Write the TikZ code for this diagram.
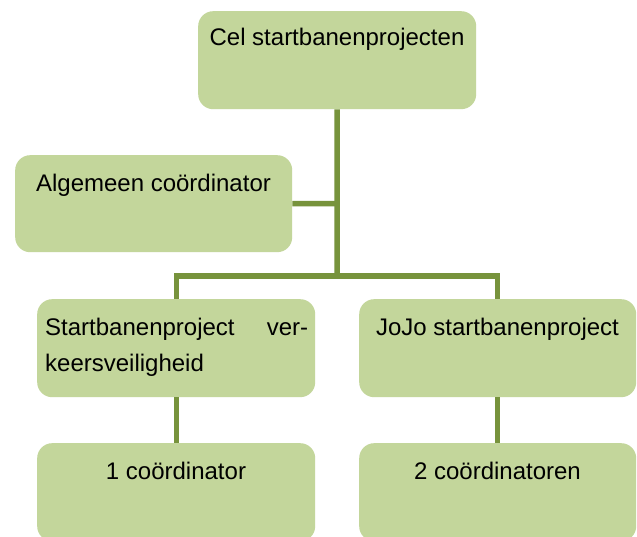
\documentclass[tikz,border=0pt]{standalone}
\usepackage{fontspec}
\setmainfont{Liberation Sans}
\definecolor{boxfill}{HTML}{C3D69B}
\definecolor{linkcol}{HTML}{77933C}
\begin{document}
\begin{tikzpicture}[x=1pt,y=-1pt,
  box/.style={draw=none,fill=boxfill,rounded corners=15pt,minimum width=278pt,minimum height=98pt,inner sep=0pt,anchor=north west},
  lbl/.style={anchor=base,inner sep=0pt,font=\fontsize{24}{36}\selectfont},
  link/.style={draw=linkcol,line width=5.5pt}]
\clip (0,0) rectangle (637,537);
\fill[white] (0,0) rectangle (637,537);
% boxes
\node[box] (top) at (198,11) {};
\node[box,minimum width=277pt,minimum height=97pt] (alg) at (15,155) {};
\node[box] (left) at (37,299) {};
\node[box,minimum width=277pt] (right) at (359,299) {};
\node[box] (bl) at (37,443) {};
\node[box,minimum width=277pt] (br) at (359,443) {};
% labels
\node[lbl] (ttop) at (337,46) {Cel startbanenprojecten};
\node[lbl] (talg) at (153.5,192) {Algemeen coördinator};
\node[lbl,anchor=base west] (tl1) at (45,335) {\makebox[263pt][s]{Startbanenproject ver-}};
\node[lbl,anchor=base west] (tl2) at (45,371) {keersveiligheid};
\node[lbl] (tright) at (497.5,335) {JoJo startbanenproject};
\node[lbl] (tbl) at (176,479) {1 coördinator};
\node[lbl] (tbr) at (497.5,479) {2 coördinatoren};
% connectors
\coordinate (j) at (337,276);
\coordinate (jl) at (176.5,276);
\coordinate (jr) at (497.5,276);
\coordinate (ja) at (337,203.5);
\draw[link] (top.south) -- (j);
\draw[link] (left.north -| jl) -- (jl) -- (jr) -- (right.north -| jr);
\draw[link] (alg.east) -- (ja);
\draw[link] (left.south -| jl) -- (bl.north -| jl);
\draw[link] (right.south -| jr) -- (br.north -| jr);
\end{tikzpicture}
\end{document}
